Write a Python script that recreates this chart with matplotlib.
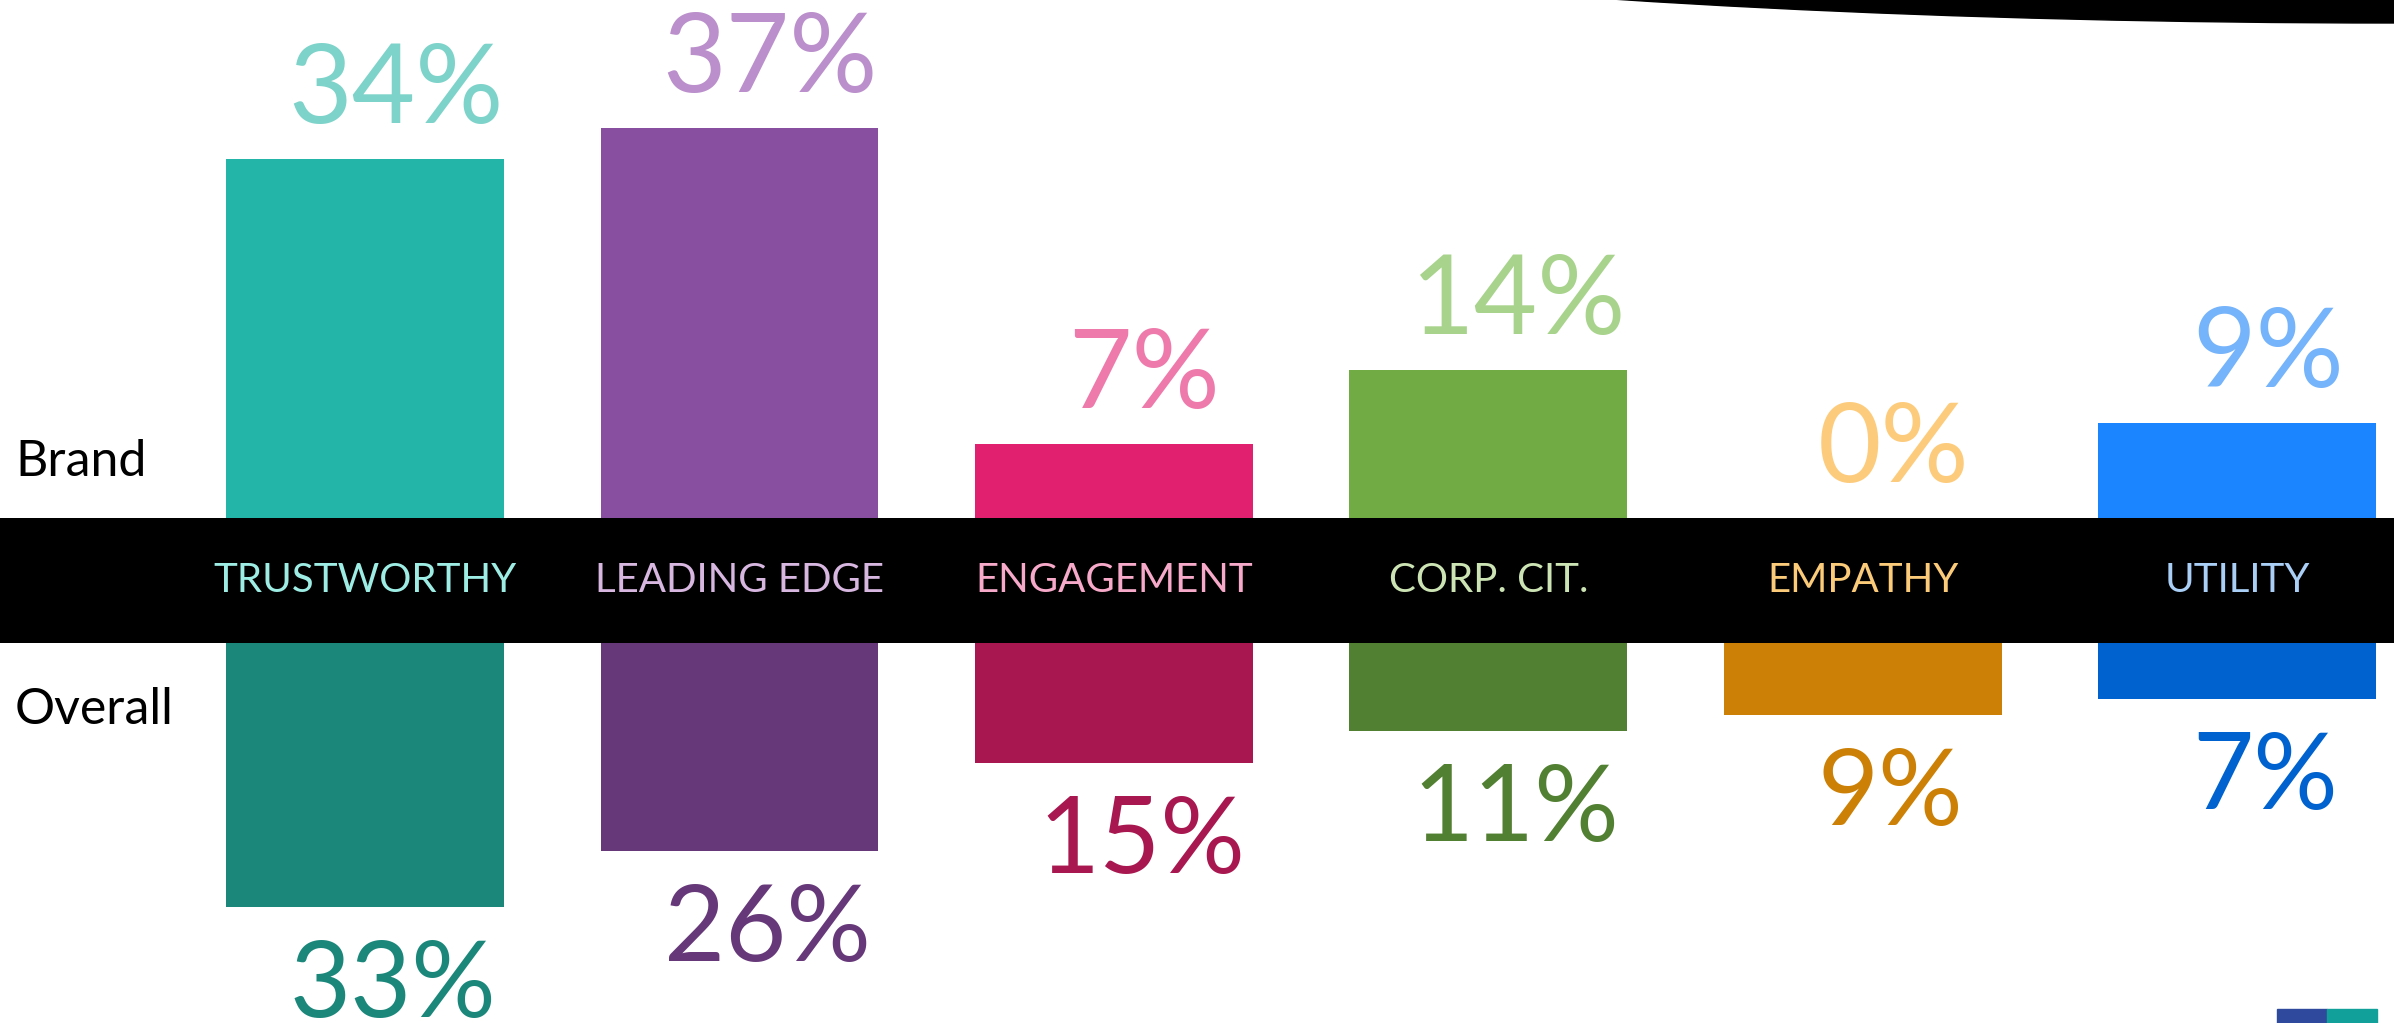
import numpy as np
import matplotlib
matplotlib.use("Agg")
import matplotlib.pyplot as plt
from matplotlib.patches import Ellipse, Rectangle

plt.rcParams['font.family'] = ['Lato', 'DejaVu Sans']

# data
categories = ["TRUSTWORTHY", "LEADING EDGE", "ENGAGEMENT", "CORP. CIT.", "EMPATHY", "UTILITY"]
brand = [34, 37, 7, 14, 0, 9]
overall = [33, 26, 15, 11, 9, 7]

# colours
brand_colors = ["#23B5A8", "#884EA0", "#E12170", "#71AB44", "#F9B233", "#1A85FF"]
overall_colors = ["#1B877B", "#663879", "#A8174F", "#528032", "#CC8005", "#0062CE"]
brand_label_colors = ["#7DD3C9", "#BA8FCB", "#EE7AAB", "#A8D38C", "#FDCB7C", "#75B3FB"]
cat_label_colors = ["#9DEDE5", "#D7B6E0", "#F6A9C8", "#CCE4B4", "#FBCB7A", "#A9CFF6"]

W, H = 2394, 1023
fig = plt.figure(figsize=(W / 100, H / 100), dpi=100)
fig.patch.set_facecolor("white")

band_top, band_bot = 518, 643
xlim = (-0.975, 5.419)
x = np.arange(len(categories))
bar_w = 0.742

# upper axes: brand bars grow upward from band
ax_top = fig.add_axes([0, 1 - band_top / H, 1, band_top / H])
ax_top.bar(x, brand, width=bar_w, color=brand_colors, align="center")
ax_top.set_xlim(*xlim)
ax_top.set_ylim(0, band_top / 10.55)
ax_top.axis("off")
for i, v in enumerate(brand):
    ax_top.annotate(f"{v}%", (x[i], v), xytext=(22, 26), textcoords="offset points",
                    ha="center", va="baseline", fontsize=79,
                    color=brand_label_colors[i], annotation_clip=False)

# lower axes: overall bars grow downward from band
ax_bot = fig.add_axes([0, 0, 1, (H - band_bot) / H])
ax_bot.bar(x, overall, width=bar_w, color=overall_colors, align="center")
ax_bot.set_xlim(*xlim)
ax_bot.set_ylim((H - band_bot) / 8.0, 0)
ax_bot.axis("off")
for i, v in enumerate(overall):
    ax_bot.annotate(f"{v}%", (x[i], v), xytext=(20, -79), textcoords="offset points",
                    ha="center", va="baseline", fontsize=76,
                    color=overall_colors[i], annotation_clip=False)

# black band with category names
ax_band = fig.add_axes([0, 1 - band_bot / H, 1, (band_bot - band_top) / H])
ax_band.set_facecolor("black")
ax_band.set_xlim(*xlim)
ax_band.set_ylim(0, 1)
ax_band.set_xticks([])
ax_band.set_yticks([])
for s in ax_band.spines.values():
    s.set_visible(False)
for i, c in enumerate(categories):
    ax_band.text(x[i], 0.5, c, ha="center", va="center", fontsize=29,
                 color=cat_label_colors[i])

# row labels
fig.text(15 / W, 1 - 462 / H, "Brand", ha="left", va="center", fontsize=36, color="black")
fig.text(15 / W, 1 - 710 / H, "Overall", ha="left", va="center", fontsize=36, color="black")

# decoration: curve top right and logo corner
ax_deco = fig.add_axes([0, 0, 1, 1], zorder=-1)
ax_deco.set_xlim(0, W)
ax_deco.set_ylim(H, 0)
ax_deco.axis("off")
ax_deco.add_patch(Ellipse((2394, -177), 2 * 1648, 400, color="black"))
ax_deco.add_patch(Rectangle((2277, 1009), 50, 14, color="#2F4A9C"))
ax_deco.add_patch(Rectangle((2327, 1009), 50, 14, color="#12A19A"))

fig.savefig("out.png", dpi=100, facecolor=fig.get_facecolor())
